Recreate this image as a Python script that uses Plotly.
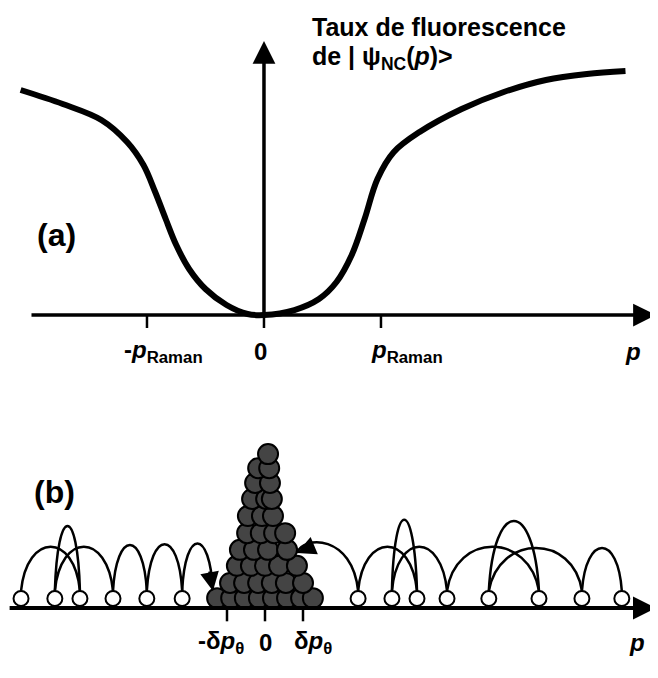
import plotly.graph_objects as go

# ---- panel (a): fluorescence rate vs p (p in units of p_Raman) ----
curve_p = [-2.08, -1.72, -1.39, -1.17, -1.03, -0.93, -0.84, -0.75, -0.64, -0.50,
           -0.32, -0.14, 0.0, 0.26, 0.47, 0.62, 0.75, 0.86, 0.97, 1.11,
           1.33, 1.69, 2.05, 2.41, 2.76, 3.09]
curve_rate = [2.25, 2.11, 1.95, 1.73, 1.50, 1.23, 0.96, 0.70, 0.46, 0.26,
              0.10, 0.01, 0.0, 0.05, 0.16, 0.33, 0.60, 0.96, 1.36, 1.63,
              1.83, 2.06, 2.23, 2.35, 2.41, 2.44]
ticks_a = [-1, 0, 1]

# ---- panel (b): atoms on the p axis (p in units of delta p_theta) ----
free_p = [-6.42, -5.53, -4.87, -4.00, -3.11, -2.18,
          2.45, 3.34, 4.00, 4.79, 5.89, 7.21, 8.34, 9.39]
free_h = [0.25] * len(free_p)

trapped_p = [-1.26, -0.89, -0.53, -0.16, 0.21, 0.58, 0.95, 1.26,
             -0.92, -0.55, -0.18, 0.18, 0.55, 1.00,
             -0.74, -0.37, 0.0, 0.37, 0.84,
             -0.66, -0.29, 0.08, 0.58,
             -0.47, -0.11, 0.24, 0.53,
             -0.45, -0.08, 0.21,
             -0.34, 0.03, 0.18,
             -0.26, 0.13,
             -0.18, 0.11,
             0.08]
trapped_h = [0.26] * 8 + [0.66] * 6 + [1.11] * 5 + [1.53] * 4 + [1.97] * 4 \
    + [2.42] * 3 + [2.87] * 3 + [3.29] * 2 + [3.68] * 2 + [4.05]

# jumps: start, peak position, peak height, end, end height
jump_start = [-6.42, -5.53, -5.53, -4.00, -3.11, -2.18, 2.45, 2.45, 3.34, 3.34, 4.79, 5.89, 5.89, 8.34]
jump_peak_p = [-5.62, -4.78, -5.18, -3.55, -2.63, -1.79, 1.71, 3.20, 3.63, 4.03, 5.90, 6.53, 7.22, 8.89]
jump_peak_h = [1.61, 1.61, 2.16, 1.66, 1.68, 1.70, 1.68, 1.61, 2.32, 1.61, 1.61, 2.29, 1.58, 1.58]
jump_end = [-4.87, -4.00, -4.87, -3.11, -2.18, -1.37, 0.84, 4.00, 4.00, 4.79, 7.21, 7.21, 8.34, 9.39]
jump_end_h = [0.45, 0.45, 0.45, 0.45, 0.45, 0.45, 1.45, 0.45, 0.45, 0.45, 0.45, 0.45, 0.45, 0.45]
ticks_b = [-1, 0, 1]

FONT = "Liberation Sans, Arial, sans-serif"
INK = "black"

fig = go.Figure()

fig.add_trace(go.Scatter(x=curve_p, y=curve_rate, mode="lines", line=dict(color=INK, width=6, shape="spline"),
                         xaxis="x", yaxis="y", hoverinfo="skip"))
fig.add_trace(go.Scatter(x=trapped_p, y=trapped_h, mode="markers", xaxis="x2", yaxis="y2",
                         marker=dict(size=20, color="#444444", line=dict(color=INK, width=2)),
                         hoverinfo="skip"))
fig.add_trace(go.Scatter(x=free_p, y=free_h, mode="markers", xaxis="x2", yaxis="y2",
                         marker=dict(size=15, color="white", line=dict(color=INK, width=2)),
                         hoverinfo="skip"))

shapes = []
for x0, xp, yp, x1, y1 in zip(jump_start, jump_peak_p, jump_peak_h, jump_end, jump_end_h):
    y0 = 0.45
    c = (yp - (y0 + y1) / 8) * 4 / 3
    c1 = x0 + 0.2 * (xp - x0)
    c2 = x1 - 0.2 * (x1 - xp)
    shapes.append(dict(type="path", xref="x2", yref="y2", layer="below",
                       path=f"M{x0},{y0} C{c1},{c} {c2},{c} {x1},{y1}",
                       line=dict(color=INK, width=2.5)))
for t in ticks_a:
    shapes.append(dict(type="line", xref="x", yref="y", x0=t, x1=t, y0=0, y1=-0.13,
                       line=dict(color=INK, width=2.5)))
for t in ticks_b:
    shapes.append(dict(type="line", xref="x2", yref="y2", x0=t, x1=t, y0=0, y1=-0.35,
                       line=dict(color=INK, width=2.5)))


def arrow(x, y, ax, ay, xr, yr, w=3.5, size=1.3):
    return dict(x=x, y=y, ax=ax, ay=ay, xref=xr, yref=yr, axref=xr, ayref=yr, text="",
                showarrow=True, arrowhead=2, arrowwidth=w, arrowsize=size, arrowcolor=INK)


def label(x, y, text, size=24, xr="x", yr="y", xanchor="center"):
    return dict(x=x, y=y, xref=xr, yref=yr, text=text, showarrow=False, xanchor=xanchor,
                font=dict(family=FONT, size=size, color=INK, weight="bold"))


annotations = [
    arrow(3.35, 0, -2.0, 0, "x", "y"),
    arrow(0, 2.74, 0, 0, "x", "y"),
    arrow(10.29, 0, -6.76, 0, "x2", "y2", w=4, size=1.15),
    arrow(-1.37, 0.45, -1.47, 1.0, "x2", "y2", w=2.5, size=1.5),
    arrow(0.84, 1.45, 1.2, 1.6, "x2", "y2", w=2.5, size=1.5),
    label(0.39, 2.88, "Taux de fluorescence", size=25, xanchor="left"),
    label(0.39, 2.57, "de | ψ<sub>NC</sub>(<i>p</i>)&gt;", size=25, xanchor="left"),
    label(-1.77, 0.80, "(a)", size=32),
    label(-0.86, -0.36, "-<i>p</i><sub>Raman</sub>"),
    label(-0.03, -0.36, "0"),
    label(1.22, -0.36, "<i>p</i><sub>Raman</sub>"),
    label(3.15, -0.36, "<i>p</i>"),
    label(-5.53, 3.05, "(b)", size=32, xr="x2", yr="y2"),
    label(-1.15, -0.92, "-δ<i>p</i><sub>θ</sub>", xr="x2", yr="y2"),
    label(0.0, -0.92, "0", xr="x2", yr="y2"),
    label(1.25, -0.92, "δ<i>p</i><sub>θ</sub>", xr="x2", yr="y2"),
    label(9.8, -0.92, "<i>p</i>", xr="x2", yr="y2"),
]

hidden = dict(visible=False, showgrid=False, zeroline=False, fixedrange=True)
# the page body adds an 8px margin, so the figure is 8px smaller than the window
fig.update_layout(
    width=650, height=670,
    margin=dict(l=0, r=0, t=0, b=0),
    paper_bgcolor="white", plot_bgcolor="white",
    showlegend=False,
    xaxis=dict(domain=[0, 1], range=[-2.188, 3.368], anchor="y", **hidden),
    yaxis=dict(domain=[0.4552, 1], range=[-0.58, 3.07], anchor="x", **hidden),
    xaxis2=dict(domain=[0, 1], range=[-6.763, 10.342], anchor="y2", **hidden),
    yaxis2=dict(domain=[0, 0.4552], range=[-1.842, 6.184], anchor="x2", **hidden),
    shapes=shapes,
    annotations=annotations,
)

fig.write_html("out.html")
